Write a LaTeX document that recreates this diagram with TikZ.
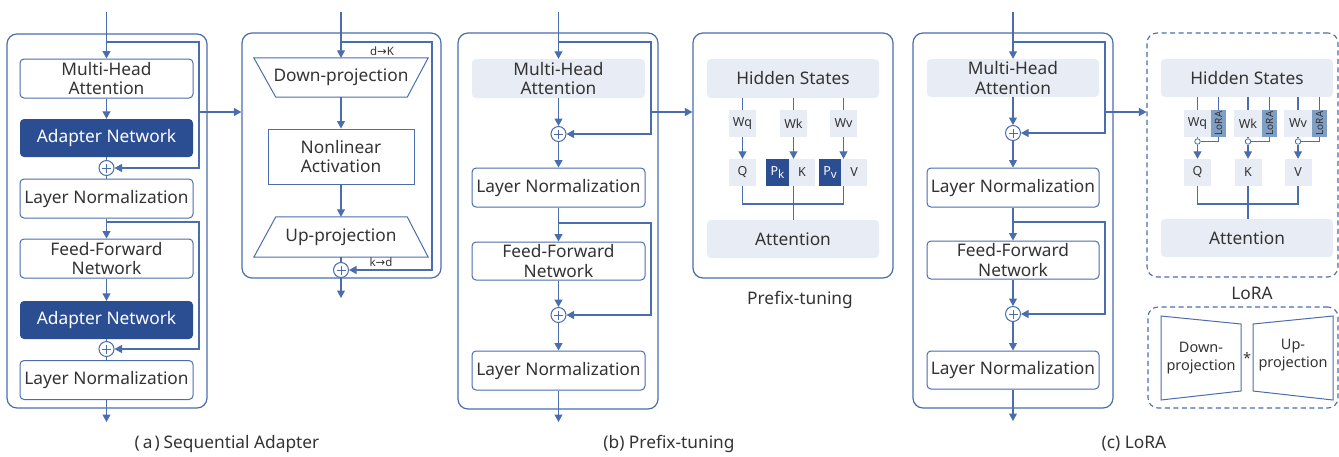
\documentclass[tikz,border=0pt]{standalone}
\usepackage{fontspec}
\setmainfont{Noto Sans}
\newfontfamily\dejavu{DejaVu Sans}
\usetikzlibrary{arrows.meta}
\definecolor{lb}{HTML}{4A6DAE}
\definecolor{db}{HTML}{2B4D92}
\definecolor{lf}{HTML}{E8ECF5}
\definecolor{tagf}{HTML}{7F9EC3}
\definecolor{tx}{HTML}{333333}
\begin{document}
\begin{tikzpicture}[x=1pt,y=-1pt,
  ln/.style={draw=lb, line width=1.1pt},
  arr/.style={ln, -{Triangle[length=7.5pt,width=8pt]}},
  outer/.style={draw=lb, line width=1.2pt, rounded corners=10pt, inner sep=0pt},
  dashbox/.style={draw=lb, line width=1.1pt, dash pattern=on 5pt off 3.5pt, rounded corners=10pt, inner sep=0pt},
  big/.style={font=\fontsize{17.3}{19.5}\selectfont, text=tx, align=center, inner sep=0pt},
  mid/.style={font=\fontsize{14.5}{18}\selectfont, text=tx, align=center, inner sep=0pt},
  wbox/.style={big, draw=lb, line width=1pt, fill=white, rounded corners=4pt},
  dbox/.style={big, fill=db, text=white, rounded corners=4pt},
  lbox/.style={big, fill=lf, rounded corners=4pt},
  sm/.style={font=\fontsize{12.5}{14}\selectfont, text=tx, inner sep=0pt, minimum height=27pt, fill=lf},
  tag/.style={font=\fontsize{10}{10}\selectfont, text=tx, inner sep=0pt, minimum height=27pt, minimum width=15pt, fill=tagf},
  lbl/.style={font=\fontsize{11.5}{11.5}\selectfont, text=tx, inner sep=0pt},
  dot/.style={circle, draw=lb, fill=white, line width=0.8pt, minimum size=5.5pt, inner sep=0pt},
  plusn/.style={circle, draw=lb, fill=white, line width=1pt, minimum size=15pt, inner sep=0pt,
    path picture={\draw[lb, line width=0.9pt] ([xshift=-4.5pt]path picture bounding box.center) -- ([xshift=4.5pt]path picture bounding box.center) ([yshift=-4.5pt]path picture bounding box.center) -- ([yshift=4.5pt]path picture bounding box.center);}},
]
\useasboundingbox (0,0) rectangle (1339,456);

% ---------------- (a) Sequential Adapter ----------------
\node[outer, minimum width=200pt, minimum height=374pt] (abox) at (107,221) {};
\node[wbox, minimum width=173pt, minimum height=39pt] (amha) at (106.5,78.5) {Multi-Head\\Attention};
\node[dbox, minimum width=173pt, minimum height=38pt] (aad1) at (106.5,138) {Adapter Network};
\node[plusn] (ap1) at (106.5,168) {};
\node[wbox, minimum width=173pt, minimum height=39pt] (aln1) at (106.5,198.5) {Layer Normalization};
\node[wbox, minimum width=173pt, minimum height=39pt] (affn) at (106.5,258.5) {Feed-Forward\\Network};
\node[dbox, minimum width=173pt, minimum height=38pt] (aad2) at (106.5,320) {Adapter Network};
\node[plusn] (ap2) at (106.5,349) {};
\node[wbox, minimum width=173pt, minimum height=39pt] (aln2) at (106.5,380) {Layer Normalization};

% adapter detail
\node[outer, minimum width=199pt, minimum height=245pt] (adbox) at (341.5,155.5) {};
\node[big, minimum width=174pt, minimum height=39pt] (adown) at (341,77.5) {Down-projection};
\draw[ln, line width=1pt] (adown.north west) -- (adown.north east) -- ([xshift=-21pt]adown.south east) -- ([xshift=22pt]adown.south west) -- cycle;
\node[big, draw=lb, line width=1pt, minimum width=146pt, minimum height=55pt] (anl) at (341,156.5) {Nonlinear\\Activation};
\node[big, minimum width=174pt, minimum height=40pt] (aup) at (341,237) {Up-projection};
\draw[ln, line width=1pt] ([xshift=22pt]aup.north west) -- ([xshift=-21pt]aup.north east) -- (aup.south east) -- (aup.south west) -- cycle;
\node[plusn] (adp) at (341,270) {};
\node[lbl] (ldk) at (382,51) {d{\dejavu →}K};
\node[lbl] (lkd) at (381,262) {k{\dejavu →}d};

\coordinate (ain) at (106.5,12);
\coordinate (ab1) at (106.5,42);
\coordinate (ab2) at (106.5,222);
\coordinate (aside) at (199,112);
\coordinate (aout) at (106.5,422);
\draw[arr] (ain) -- (amha.north);
\draw[arr] (amha.south) -- (aad1.north);
\draw[ln] (aad1.south) -- (ap1.north);
\draw[ln] (ap1.south) -- (aln1.north);
\draw[arr] (ab1) -- (199,42) -- (199,168) -- (ap1.east);
\draw[arr] (aside) -- (aside -| adbox.west);
\draw[arr] (aln1.south) -- (affn.north);
\draw[arr] (ab2) -- (199,222) -- (199,349) -- (ap2.east);
\draw[arr] (affn.south) -- (aad2.north);
\draw[ln] (aad2.south) -- (ap2.north);
\draw[ln] (ap2.south) -- (aln2.north);
\draw[arr] (aln2.south) -- (aout);

\coordinate (adin) at (341,12);
\coordinate (adb) at (341,42);
\coordinate (adout) at (341,298);
\draw[arr] (adin) -- (adown.north);
\draw[arr] (adown.south) -- (anl.north);
\draw[arr] (anl.south) -- (aup.north);
\draw[ln] (aup.south) -- (adp.north);
\draw[arr] (adb) -- (432,42) -- (432,270) -- (adp.east);
\draw[arr] (adp.south) -- (adout);

\node[big] (acap) at (227,444) {(\hspace{3pt}a\hspace{2pt})\hspace{4pt}Sequential Adapter};

% ---------------- (b) Prefix-tuning ----------------
\node[outer, minimum width=200pt, minimum height=376pt] (bbox) at (558,221) {};
\node[lbox, minimum width=173pt, minimum height=39pt] (bmha) at (558.5,78.5) {Multi-Head\\Attention};
\node[plusn] (bp1) at (558.5,134) {};
\node[wbox, minimum width=173pt, minimum height=39pt] (bln1) at (558.5,187.5) {Layer Normalization};
\node[wbox, minimum width=173pt, minimum height=38pt] (bffn) at (558.5,261) {Feed-Forward\\Network};
\node[plusn] (bp2) at (558.5,315) {};
\node[wbox, minimum width=173pt, minimum height=39pt] (bln2) at (558.5,370.5) {Layer Normalization};

\node[outer, minimum width=200pt, minimum height=245pt] (pbox) at (793,155.5) {};
\node[lbox, minimum width=172pt, minimum height=39pt] (phs) at (793,78.5) {Hidden States};
\node[sm, minimum width=27pt] (pwq) at (742.5,123.5) {Wq};
\node[sm, minimum width=27pt] (pwk) at (793.5,123.5) {Wk};
\node[sm, minimum width=27pt] (pwv) at (843.5,123.5) {Wv};
\node[sm, minimum width=27pt] (pq) at (742.5,172.5) {Q};
\node[sm, fill=db, text=white, minimum width=23pt] (ppk) at (777.5,172.5) {P\raisebox{-3pt}{\fontsize{11.5}{11.5}\selectfont k}};
\node[sm, minimum width=26pt] (pk) at (802,172.5) {K};
\node[sm, fill=db, text=white, minimum width=22pt] (ppv) at (830,172.5) {P\raisebox{-3pt}{\fontsize{11.5}{11.5}\selectfont v}};
\node[sm, minimum width=26pt] (pv) at (854,172.5) {V};
\node[lbox, minimum width=172pt, minimum height=38pt] (patt) at (793,239) {Attention};
\node[big] (pcap) at (800,300) {Prefix-tuning};

\coordinate (bin) at (558.5,12);
\coordinate (bb1) at (558.5,42);
\coordinate (bb2) at (558.5,223);
\coordinate (bside) at (651,112);
\coordinate (bout) at (558.5,422);
\draw[arr] (bin) -- (bmha.north);
\draw[arr] (bmha.south) -- (bp1.north);
\draw[arr] (bp1.south) -- (bln1.north);
\draw[arr] (bb1) -- (651,42) -- (651,134) -- (bp1.east);
\draw[arr] (bside) -- (bside -| pbox.west);
\draw[arr] (bln1.south) -- (bffn.north);
\draw[arr] (bb2) -- (651,223) -- (651,315) -- (bp2.east);
\draw[arr] (bffn.south) -- (bp2.north);
\draw[arr] (bp2.south) -- (bln2.north);
\draw[arr] (bln2.south) -- (bout);

\draw[ln] (phs.south -| pwq) -- (pwq.north);
\draw[ln] (phs.south -| pwk) -- (pwk.north);
\draw[ln] (phs.south -| pwv) -- (pwv.north);
\draw[arr] (pwq.south) -- (pq.north);
\draw[arr] (pwk.south) -- (pwk.south |- pk.north);
\draw[arr] (pwv.south) -- (pwv.south |- pv.north);
\coordinate (pjoin) at (793.5,204);
\draw[ln] (pq.south) |- (pjoin) -| (pwv.south |- pv.south);
\draw[ln] (pwk.south |- pk.south) -- (pwk.south |- patt.north);

\node[big] (bcap) at (669,444) {(b) Prefix-tuning};

% ---------------- (c) LoRA ----------------
\node[outer, minimum width=200pt, minimum height=375pt] (cbox) at (1013,220.5) {};
\node[lbox, minimum width=172pt, minimum height=38pt] (cmha) at (1013,78) {Multi-Head\\Attention};
\node[plusn] (cp1) at (1013,133) {};
\node[wbox, minimum width=172pt, minimum height=39pt] (cln1) at (1013,187.5) {Layer Normalization};
\node[wbox, minimum width=172pt, minimum height=38pt] (cffn) at (1013,260) {Feed-Forward\\Network};
\node[plusn] (cp2) at (1013,314) {};
\node[wbox, minimum width=172pt, minimum height=38pt] (cln2) at (1013,370) {Layer Normalization};

\node[dashbox, minimum width=191pt, minimum height=244pt] (ldbox) at (1242.5,155) {};
\node[lbox, minimum width=172pt, minimum height=38pt] (lhs) at (1247,78) {Hidden States};
\node[sm, minimum width=27pt] (lwq) at (1197.5,123.5) {Wq};
\node[tag] (ltq) at (1218.5,123.5) {\rotatebox{90}{LoRA}};
\node[sm, minimum width=28pt] (lwk) at (1248,123.5) {Wk};
\node[tag] (ltk) at (1269.5,123.5) {\rotatebox{90}{LoRA}};
\node[sm, minimum width=28pt] (lwv) at (1298,123.5) {Wv};
\node[tag] (ltv) at (1319.5,123.5) {\rotatebox{90}{LoRA}};
\node[dot] (lcq) at (1197.5,141.5) {};
\node[dot] (lck) at (1248,141.5) {};
\node[dot] (lcv) at (1298,141.5) {};
\node[sm, minimum width=27pt] (lq) at (1197.5,172.5) {Q};
\node[sm, minimum width=27pt] (lk) at (1248,172.5) {K};
\node[sm, minimum width=27pt] (lv) at (1298,172.5) {V};
\node[lbox, minimum width=172pt, minimum height=38pt] (latt) at (1247,238) {Attention};
\node[big] (lcap) at (1252,293) {LoRA};

\node[dashbox, minimum width=190pt, minimum height=101pt] (lbbox) at (1243,357.5) {};
\draw[ln, line width=1pt] (1161,316) -- (1241,324) -- (1241,391) -- (1161,400) -- cycle;
\draw[ln, line width=1pt] (1253,324) -- (1333,316) -- (1333,400) -- (1253,391) -- cycle;
\node[mid] (ldown) at (1201,358) {Down-\\projection};
\node[mid] (lstar) at (1247,358) {*};
\node[mid] (lupp) at (1293,355) {Up-\\projection};

\coordinate (cin) at (1013,12);
\coordinate (cb1) at (1013,42);
\coordinate (cb2) at (1013,222);
\coordinate (cside) at (1105,112);
\coordinate (cout) at (1013,421);
\draw[arr] (cin) -- (cmha.north);
\draw[arr] (cmha.south) -- (cp1.north);
\draw[arr] (cp1.south) -- (cln1.north);
\draw[arr] (cb1) -- (1105,42) -- (1105,133) -- (cp1.east);
\draw[arr] (cside) -- (cside -| ldbox.west);
\draw[arr] (cln1.south) -- (cffn.north);
\draw[arr] (cb2) -- (1105,222) -- (1105,314) -- (cp2.east);
\draw[arr] (cffn.south) -- (cp2.north);
\draw[arr] (cp2.south) -- (cln2.north);
\draw[arr] (cln2.south) -- (cout);

\draw[ln] (lhs.south -| lwq) -- (lwq.north);
\draw[ln] (lhs.south -| ltq) -- (ltq.north);
\draw[ln] (lhs.south -| lwk) -- (lwk.north);
\draw[ln] (lhs.south -| ltk) -- (ltk.north);
\draw[ln] (lhs.south -| lwv) -- (lwv.north);
\draw[ln] (lhs.south -| ltv) -- (ltv.north);
\draw[ln] (lwq.south) -- (lcq.north);
\draw[ln] (lwk.south) -- (lck.north);
\draw[ln] (lwv.south) -- (lcv.north);
\draw[ln] (ltq.south) |- (lcq.east);
\draw[ln] (ltk.south) |- (lck.east);
\draw[ln] (ltv.south) |- (lcv.east);
\draw[arr] (lcq.south) -- (lq.north);
\draw[arr] (lck.south) -- (lk.north);
\draw[arr] (lcv.south) -- (lv.north);
\coordinate (ljoin) at (1248,204);
\draw[ln] (lq.south) |- (ljoin) -| (lv.south);
\draw[ln] (lk.south) -- (lk.south |- latt.north);

\node[big] (ccap) at (1134,444) {(c) LoRA};
\end{tikzpicture}
\end{document}
